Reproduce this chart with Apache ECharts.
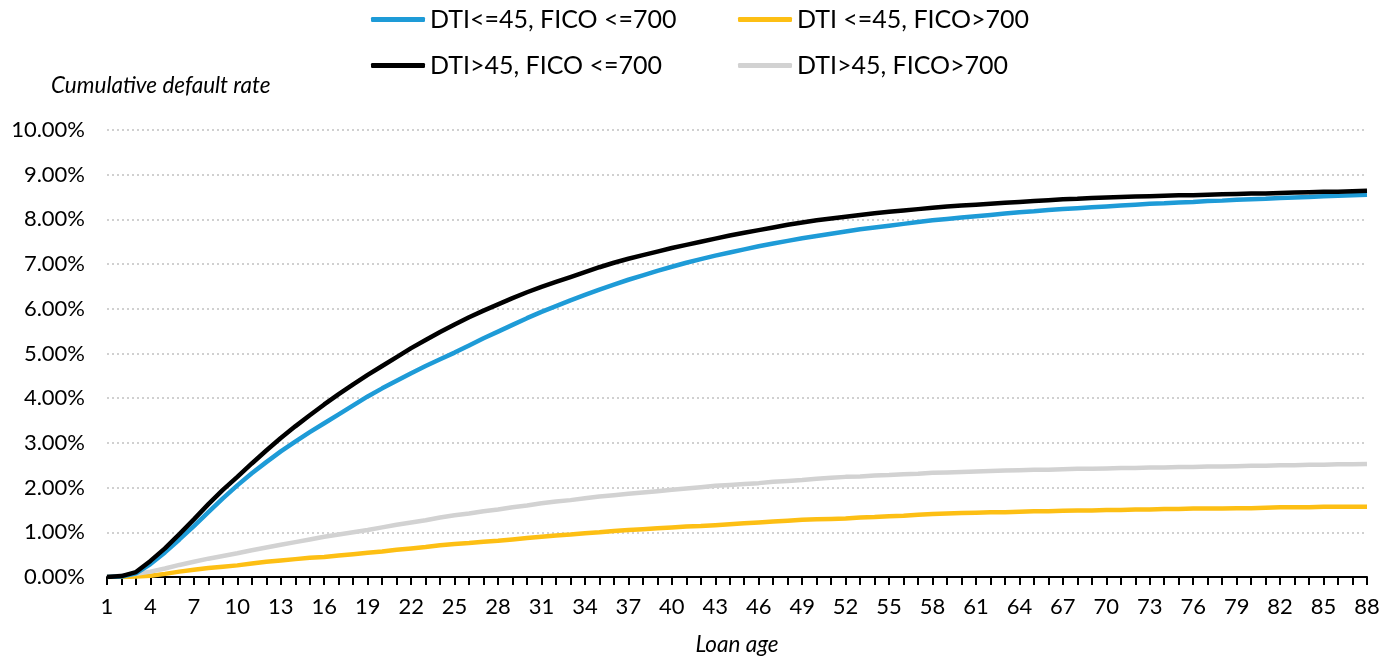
<!DOCTYPE html>
<html>
<head>
<meta charset="utf-8">
<script src="https://cdn.jsdelivr.net/npm/echarts@6/dist/echarts.min.js"></script>
<style>
html,body{margin:0;padding:0;background:#fff;}
#chart{width:1393px;height:658px;}
</style>
</head>
<body>
<div id="chart"></div>
<script>
// Loan age categories 1..88
const loanAge = [1,2,3,4,5,6,7,8,9,10,11,12,13,14,15,16,17,18,19,20,21,22,23,24,25,26,27,28,29,30,31,32,33,34,35,36,37,38,39,40,41,42,43,44,45,46,47,48,49,50,51,52,53,54,55,56,57,58,59,60,61,62,63,64,65,66,67,68,69,70,71,72,73,74,75,76,77,78,79,80,81,82,83,84,85,86,87,88];

const seriesNames = ["DTI<=45, FICO <=700", "DTI <=45, FICO>700", "DTI>45, FICO <=700", "DTI>45, FICO>700"];

// Cumulative default rate, in percent
const dtiLowFicoLow = [0.00,0.01,0.08,0.29,0.55,0.84,1.14,1.45,1.76,2.05,2.32,2.57,2.81,3.03,3.24,3.44,3.64,3.84,4.04,4.22,4.39,4.56,4.72,4.87,5.02,5.18,5.34,5.49,5.64,5.79,5.93,6.06,6.19,6.31,6.43,6.54,6.65,6.75,6.85,6.94,7.03,7.11,7.19,7.26,7.33,7.40,7.46,7.52,7.58,7.63,7.68,7.73,7.78,7.82,7.86,7.90,7.94,7.98,8.01,8.04,8.07,8.10,8.13,8.16,8.18,8.21,8.23,8.25,8.27,8.29,8.31,8.33,8.35,8.36,8.38,8.39,8.41,8.42,8.44,8.45,8.46,8.48,8.49,8.50,8.52,8.53,8.54,8.55];

const dtiLowFicoHigh = [0.00,0.00,0.01,0.03,0.07,0.12,0.16,0.20,0.23,0.26,0.30,0.34,0.37,0.40,0.43,0.45,0.48,0.51,0.54,0.57,0.61,0.64,0.67,0.71,0.74,0.76,0.79,0.81,0.84,0.87,0.90,0.93,0.95,0.98,1.00,1.03,1.05,1.07,1.09,1.11,1.13,1.14,1.16,1.18,1.20,1.22,1.24,1.26,1.28,1.29,1.30,1.31,1.33,1.34,1.36,1.37,1.39,1.41,1.42,1.43,1.44,1.45,1.45,1.46,1.47,1.47,1.48,1.49,1.49,1.50,1.50,1.51,1.51,1.52,1.52,1.53,1.53,1.53,1.54,1.54,1.55,1.56,1.56,1.56,1.57,1.57,1.57,1.57];

const dtiHighFicoLow = [0.00,0.02,0.11,0.36,0.64,0.96,1.29,1.63,1.95,2.24,2.54,2.83,3.11,3.37,3.62,3.86,4.09,4.31,4.52,4.72,4.92,5.12,5.30,5.48,5.65,5.81,5.96,6.10,6.24,6.37,6.49,6.60,6.71,6.82,6.93,7.03,7.12,7.20,7.28,7.36,7.43,7.50,7.57,7.64,7.70,7.76,7.82,7.88,7.93,7.98,8.02,8.06,8.10,8.14,8.17,8.20,8.23,8.26,8.29,8.31,8.33,8.35,8.37,8.39,8.41,8.43,8.45,8.46,8.48,8.49,8.50,8.51,8.52,8.53,8.54,8.54,8.55,8.56,8.57,8.58,8.58,8.59,8.60,8.61,8.62,8.62,8.63,8.64];

const dtiHighFicoHigh = [0.00,0.03,0.07,0.12,0.19,0.27,0.34,0.41,0.47,0.53,0.60,0.66,0.72,0.78,0.84,0.90,0.95,1.00,1.05,1.11,1.17,1.22,1.27,1.33,1.38,1.42,1.47,1.51,1.56,1.60,1.65,1.69,1.72,1.76,1.80,1.83,1.86,1.89,1.92,1.95,1.98,2.01,2.04,2.06,2.08,2.10,2.13,2.15,2.17,2.20,2.22,2.24,2.25,2.27,2.28,2.30,2.31,2.33,2.34,2.35,2.36,2.37,2.38,2.39,2.40,2.40,2.41,2.42,2.42,2.43,2.44,2.44,2.45,2.45,2.46,2.46,2.47,2.47,2.48,2.49,2.49,2.50,2.50,2.51,2.51,2.52,2.52,2.53];

const yTitle = "Cumulative default rate";
const xTitle = "Loan age";

const colors = ["#1E9BD7", "#FDBF14", "#000000", "#D2D2D2"];
const FONT = "Lato";

const chart = echarts.init(document.getElementById('chart'), null, {renderer: 'canvas'});

function legendFor(i, left, top) {
  return {
    data: [seriesNames[i]],
    left: left, top: top,
    icon: 'roundRect',
    itemWidth: 54, itemHeight: 5,
    padding: 0,
    selectedMode: false,
    textStyle: {fontFamily: FONT, fontSize: 25, color: '#000', padding: [0,0,0,0]}
  };
}

const option = {
  animation: false,
  backgroundColor: '#fff',
  color: colors,
  legend: [
    legendFor(0, 371, 7),
    legendFor(1, 738, 7),
    legendFor(2, 371, 53),
    legendFor(3, 738, 53)
  ],
  grid: {left: 107, right: 26, top: 130, bottom: 81, containLabel: false, outerBoundsMode: 'none'},
  graphic: [{
    type: 'text', left: 51, top: 74,
    style: {text: yTitle, font: 'italic 22.5px Lato', fill: '#000'}
  }],
  xAxis: {
    type: 'category',
    data: loanAge,
    boundaryGap: false,
    name: xTitle,
    nameLocation: 'middle',
    nameGap: 56,
    nameTextStyle: {fontFamily: FONT, fontStyle: 'italic', fontSize: 22.5, color: '#000'},
    axisLine: {lineStyle: {color: '#000', width: 2}},
    axisTick: {show: true, interval: 0, length: 8, lineStyle: {color: '#000', width: 2}},
    axisLabel: {interval: 2, margin: 19, fontFamily: FONT, fontSize: 22, color: '#000'},
    splitLine: {show: false}
  },
  yAxis: {
    type: 'value',
    min: 0, max: 10, interval: 1,
    axisLine: {show: false},
    axisTick: {show: false},
    axisLabel: {margin: 22, fontFamily: FONT, fontSize: 22, color: '#000',
      formatter: v => v.toFixed(2) + '%'},
    splitLine: {lineStyle: {color: '#D0D0D0', width: 2, type: [2, 3]}}
  },
  series: [
    {name: seriesNames[0], type: 'line', data: dtiLowFicoLow, showSymbol: false, lineStyle: {width: 4.5, color: colors[0]}, z: 3},
    {name: seriesNames[1], type: 'line', data: dtiLowFicoHigh, showSymbol: false, lineStyle: {width: 4.5, color: colors[1]}, z: 2},
    {name: seriesNames[2], type: 'line', data: dtiHighFicoLow, showSymbol: false, lineStyle: {width: 4.5, color: colors[2]}, z: 4},
    {name: seriesNames[3], type: 'line', data: dtiHighFicoHigh, showSymbol: false, lineStyle: {width: 4.5, color: colors[3]}, z: 2}
  ]
};
chart.setOption(option);
</script>
</body>
</html>
